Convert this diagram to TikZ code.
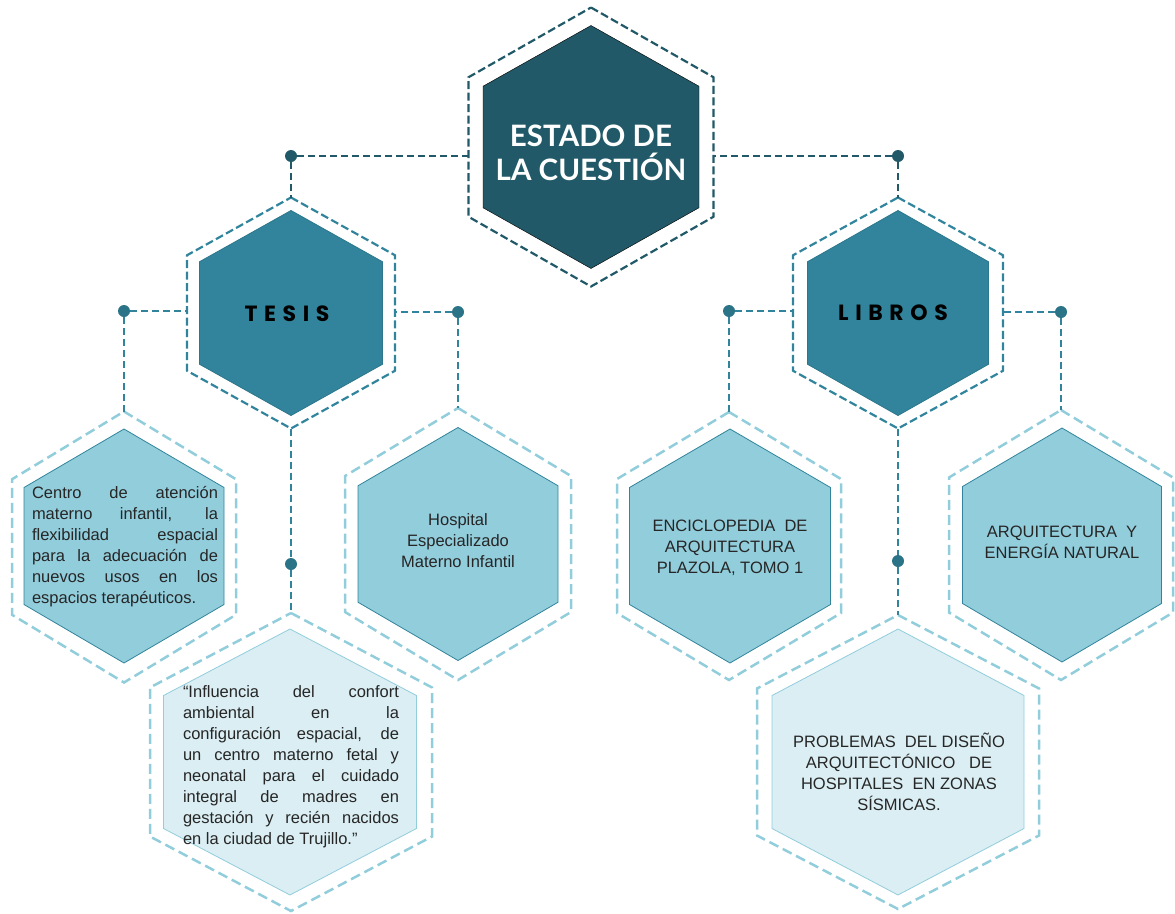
\documentclass[tikz,border=0pt]{standalone}
\usepackage{fontspec}
\setmainfont{Liberation Sans}
\newfontfamily\titlefont{Lato}
\newfontfamily\spacedfont[LetterSpace=30]{Poppins}
\definecolor{deep}{HTML}{215968}
\definecolor{mid}{HTML}{31849B}
\definecolor{light}{HTML}{92CDDC}
\definecolor{pale}{HTML}{DAEEF3}
\hyphenpenalty=10000
\exhyphenpenalty=10000

% hexagon with a point on top: name, style, centre, half width, half height
\newcommand{\hexa}[5]{%
  \draw[#2,shift={(#3)}] (0,-#5) coordinate (#1-n) -- ++(#4,#5/2) -- ++(0,#5)
    -- ++(-#4,#5/2) coordinate (#1-s) -- ++(-#4,-#5/2) -- ++(0,-#5) -- cycle;
  \path[shift={(#3)}] (-#4,0) coordinate (#1-w) (#4,0) coordinate (#1-e);}

\begin{document}
\begin{tikzpicture}[x=1pt,y=-1pt,
    ringdeep/.style={draw=deep,line width=2.2pt,dash pattern=on 8pt off 3.5pt},
    ringmid/.style={draw=mid,line width=2.2pt,dash pattern=on 8pt off 3.5pt},
    ringlight/.style={draw=light,line width=2.5pt,dash pattern=on 10pt off 5pt},
    link/.style={line width=2pt,dash pattern=on 7pt off 4pt},
    dot/.style={circle,inner sep=0pt,minimum size=12pt},
    body/.style={font=\fontsize{16.5}{21}\selectfont,text=black!85},
    head/.style={font=\spacedfont\bfseries\fontsize{22}{26}\selectfont,text=black}]
      \useasboundingbox (0,0) rectangle (1175,913);

      \hexa{est}{ringdeep}{591,147}{122.5}{139.5}
      \hexa{esti}{fill=deep}{591,147}{108}{121.5}
      \hexa{tes}{ringmid}{291,313}{104}{115.5}
      \hexa{tesi}{fill=mid,draw=mid!70!deep,line width=0.8pt}{291,313}{91.5}{102.5}
      \hexa{lib}{ringmid}{898,313}{105}{115.5}
      \hexa{libi}{fill=mid,draw=mid!70!deep,line width=0.8pt}{898,313}{90.5}{102.5}
      \hexa{cen}{ringlight}{124,547}{112}{135.5}
      \hexa{ceni}{fill=light,draw=mid,line width=0.8pt}{124,546}{100}{117}
      \hexa{hos}{ringlight}{458,544}{113}{136}
      \hexa{hosi}{fill=light,draw=mid,line width=0.8pt}{458,544}{100}{116.5}
      \hexa{inf}{ringlight}{291,762}{141}{149}
      \hexa{infi}{fill=pale,draw=light,line width=0.8pt}{290,762}{126.5}{133}
      \hexa{enc}{ringlight}{729,546}{112}{134}
      \hexa{enci}{fill=light,draw=mid,line width=0.8pt}{730,546}{100.5}{117}
      \hexa{arq}{ringlight}{1061,545}{112}{135}
      \hexa{arqi}{fill=light,draw=mid,line width=0.8pt}{1062,545}{99.5}{117}
      \hexa{pro}{ringlight}{898,762}{141}{147}
      \hexa{proi}{fill=pale,draw=light,line width=0.8pt}{898,762}{126}{133}

      \node[dot,fill=deep] (dl) at (291,156) {};
      \node[dot,fill=deep] (dr) at (898,156) {};
      \node[dot,fill=mid!60!deep] (tl) at (124,311) {};
      \node[dot,fill=mid!60!deep] (tr) at (458,312) {};
      \node[dot,fill=mid!60!deep] (tb) at (291,564) {};
      \node[dot,fill=mid!60!deep] (ll) at (729,311) {};
      \node[dot,fill=mid!60!deep] (lr) at (1061,312) {};
      \node[dot,fill=mid!60!deep] (lb) at (898,561) {};

      \draw[link,draw=deep] (dl) -- (dl -| est-w);
      \draw[link,draw=deep] (dl) -- (tes-n);
      \draw[link,draw=deep] (dr) -- (dr -| est-e);
      \draw[link,draw=deep] (dr) -- (lib-n);
      \draw[link,draw=mid] (tl) -- (tl -| tes-w);
      \draw[link,draw=mid] (tl) -- (cen-n);
      \draw[link,draw=mid] (tr) -- (tr -| tes-e);
      \draw[link,draw=mid] (tr) -- (hos-n);
      \draw[link,draw=mid] (tes-s) -- (tb) -- (inf-n);
      \draw[link,draw=mid] (ll) -- (ll -| lib-w);
      \draw[link,draw=mid] (ll) -- (enc-n);
      \draw[link,draw=mid] (lr) -- (lr -| lib-e);
      \draw[link,draw=mid] (lr) -- (arq-n);
      \draw[link,draw=mid] (lib-s) -- (lb) -- (pro-n);

      \node[font=\titlefont\bfseries\fontsize{29.5}{34}\selectfont,text=white,align=center] (estado) at (591,153) {ESTADO DE\\LA CUESTIÓN};
      \node[head] (tesis) at (287,314) {TESIS};
      \node[head] (libros) at (893,313) {LIBROS};
      \node[body,text width=186pt,align=justify] (centro) at (125,547) {Centro de atención\linebreak materno infantil, la\linebreak flexibilidad espacial\linebreak para la adecuación de\linebreak nuevos usos en los\linebreak espacios terapéuticos.};
      \node[body,align=center] (hospital) at (458,541) {Hospital\\Especializado\\Materno Infantil};
      \node[body,text width=216pt,align=justify] (influencia) at (291,767) {“Influencia del confort\linebreak ambiental en la\linebreak configuración espacial, de\linebreak un centro materno fetal y\linebreak neonatal para el cuidado\linebreak integral de madres en\linebreak gestación y recién nacidos\linebreak en la ciudad de Trujillo.”};
      \node[body,align=center] (enciclopedia) at (730,548) {ENCICLOPEDIA\ \ DE\\ARQUITECTURA\\PLAZOLA, TOMO 1};
      \node[body,align=center] (arquitectura) at (1062,542) {ARQUITECTURA\ \ Y\\ENERGÍA NATURAL};
      \node[body,align=center] (problemas) at (899,772) {PROBLEMAS\ \ DEL DISEÑO\\ARQUITECTÓNICO\ \ \ DE\\HOSPITALES\ \ EN ZONAS\\SÍSMICAS.};
    \end{tikzpicture}
\end{document}
